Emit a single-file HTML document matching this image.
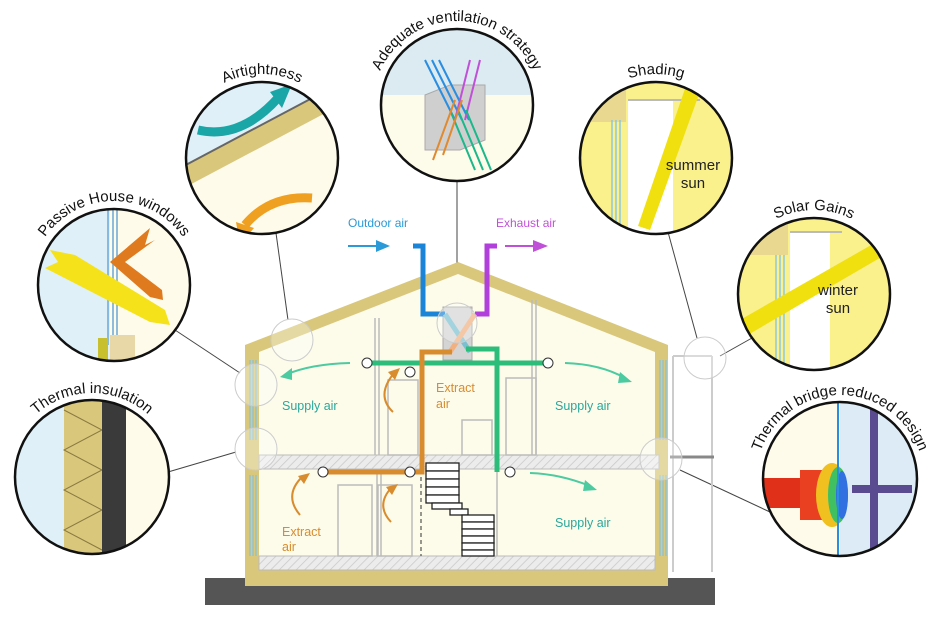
<!DOCTYPE html>
<html><head><meta charset="utf-8"><style>
html,body{margin:0;padding:0;background:#fff;}
svg{display:block;font-family:"Liberation Sans",sans-serif;}
</style></head><body>
<svg width="941" height="624" viewBox="0 0 941 624" xmlns="http://www.w3.org/2000/svg">
<defs>
<pattern id="hatch" width="6" height="6" patternUnits="userSpaceOnUse" patternTransform="rotate(45)">
<rect width="6" height="6" fill="#ececec"/><line x1="0" y1="0" x2="0" y2="6" stroke="#c8c8c8" stroke-width="1.5"/>
</pattern>
<clipPath id="c1"><circle cx="114" cy="285" r="76"/></clipPath>
<clipPath id="c2"><circle cx="262" cy="158" r="76"/></clipPath>
<clipPath id="c3"><circle cx="457" cy="105" r="76"/></clipPath>
<clipPath id="c4"><circle cx="656" cy="158" r="76"/></clipPath>
<clipPath id="c5"><circle cx="814" cy="294" r="76"/></clipPath>
<clipPath id="c6"><circle cx="92" cy="477" r="77"/></clipPath>
<clipPath id="c7"><circle cx="840" cy="479" r="77"/></clipPath>
<path id="p1" d="M 30 285 A 84 84 0 0 1 198 285"/>
<path id="p2" d="M 178 158 A 84 84 0 0 1 346 158"/>
<path id="p3" d="M 373 105 A 84 84 0 0 1 541 105"/>
<path id="p4" d="M 572 158 A 84 84 0 0 1 740 158"/>
<path id="p5" d="M 730 294 A 84 84 0 0 1 898 294"/>
<path id="p6" d="M 8 477 A 84 84 0 0 1 176 477"/>
<path id="p7" d="M 756 479 A 84 84 0 0 1 924 479"/>
</defs>

<!-- connector lines -->
<g stroke="#444" stroke-width="1" fill="none">
<line x1="175" y1="330" x2="240" y2="373"/>
<line x1="276" y1="233" x2="288" y2="320"/>
<line x1="457" y1="181" x2="457" y2="305"/>
<line x1="668" y1="232" x2="697" y2="338"/>
<line x1="752" y1="338" x2="720" y2="356"/>
<line x1="168" y1="472" x2="236" y2="452"/>
<line x1="680" y1="470" x2="770" y2="512"/>
</g>

<!-- ground -->
<rect x="205" y="578" width="510" height="27" fill="#555"/>
<!-- house -->
<polygon points="245,345 458,262 668,345 668,586 245,586" fill="#d9c77c"/>
<polygon points="259,352 458,274 655,352 655,570 259,570" fill="#fdfbea"/>
<rect x="259" y="455" width="400" height="14" fill="url(#hatch)" stroke="#bbb"/>
<rect x="259" y="556" width="396" height="14" fill="url(#hatch)" stroke="#bbb"/>
<!-- windows -->
<g stroke="#7fc3e8" stroke-width="1.2">
<line x1="250" y1="360" x2="250" y2="440"/><line x1="253" y1="360" x2="253" y2="440"/><line x1="256" y1="360" x2="256" y2="440"/>
<line x1="250" y1="475" x2="250" y2="556"/><line x1="253" y1="475" x2="253" y2="556"/><line x1="256" y1="475" x2="256" y2="556"/>
<line x1="660" y1="360" x2="660" y2="440"/><line x1="663" y1="360" x2="663" y2="440"/><line x1="666" y1="360" x2="666" y2="440"/>
<line x1="660" y1="475" x2="660" y2="556"/><line x1="663" y1="475" x2="663" y2="556"/><line x1="666" y1="475" x2="666" y2="556"/>
</g>
<!-- balcony -->
<g stroke="#ccc" stroke-width="2" fill="none">
<line x1="673" y1="356" x2="673" y2="572"/><line x1="712" y1="356" x2="712" y2="572"/><line x1="673" y1="356" x2="712" y2="356"/>
</g>
<line x1="670" y1="457" x2="714" y2="457" stroke="#888" stroke-width="3"/>
<!-- interior walls -->
<g stroke="#bbb" stroke-width="1.5" fill="none">
<line x1="375" y1="318" x2="375" y2="455"/><line x1="379" y1="318" x2="379" y2="455"/>
<line x1="532" y1="300" x2="532" y2="455"/><line x1="536" y1="300" x2="536" y2="455"/>
<line x1="377" y1="470" x2="377" y2="556"/><line x1="381" y1="470" x2="381" y2="556"/>
<line x1="497" y1="470" x2="497" y2="556"/>
<rect x="388" y="380" width="30" height="75"/><rect x="506" y="378" width="30" height="77"/>
<rect x="338" y="485" width="34" height="71"/><rect x="378" y="485" width="34" height="71"/>
<rect x="462" y="420" width="30" height="35"/>
</g>
<line x1="421" y1="470" x2="421" y2="556" stroke="#333" stroke-dasharray="4,3"/>
<!-- stairs -->
<g stroke="#222" stroke-width="1.3" fill="#fff">
<rect x="426" y="463" width="33" height="8"/><rect x="426" y="471" width="33" height="8"/><rect x="426" y="479" width="33" height="8"/><rect x="426" y="487" width="33" height="8"/><rect x="426" y="495" width="33" height="8"/>
<rect x="432" y="503" width="30" height="6"/><rect x="450" y="509" width="18" height="6"/>
<rect x="462" y="515" width="32" height="7"/><rect x="462" y="522" width="32" height="7"/><rect x="462" y="529" width="32" height="7"/><rect x="462" y="536" width="32" height="7"/><rect x="462" y="543" width="32" height="7"/><rect x="462" y="550" width="32" height="6"/>
</g>
<!-- HRV -->
<rect x="443" y="307" width="29" height="53" fill="#d4d4d4" stroke="#aaa"/>
<!-- ducts -->
<polyline points="413,246 423,246 423,314 445,314" fill="none" stroke="#1a84d8" stroke-width="5"/>
<polyline points="497,246 487,246 487,314 475,314" fill="none" stroke="#b03fdb" stroke-width="5"/>
<line x1="445" y1="314" x2="470" y2="352" stroke="#7ac0d0" stroke-width="5"/>
<line x1="475" y1="314" x2="450" y2="352" stroke="#f0b080" stroke-width="5"/>
<polyline points="466,349 497,349 497,472" fill="none" stroke="#2dbd7a" stroke-width="5"/>
<line x1="367" y1="363" x2="548" y2="363" stroke="#2dbd7a" stroke-width="5"/>
<polyline points="452,352 422,352 422,472 323,472" fill="none" stroke="#d88c2e" stroke-width="5"/>
<!-- vents -->
<g fill="#fff" stroke="#333" stroke-width="1">
<circle cx="367" cy="363" r="5"/><circle cx="548" cy="363" r="5"/><circle cx="410" cy="372" r="5"/>
<circle cx="323" cy="472" r="5"/><circle cx="410" cy="472" r="5"/><circle cx="510" cy="472" r="5"/>
</g>
<!-- outdoor/exhaust arrows -->
<line x1="348" y1="246" x2="378" y2="246" stroke="#2a9ad8" stroke-width="2"/><polygon points="376,240 390,246 376,252" fill="#2a9ad8"/>
<line x1="505" y1="246" x2="535" y2="246" stroke="#c050d8" stroke-width="2"/><polygon points="533,240 548,246 533,252" fill="#c050d8"/>
<text x="348" y="227" font-size="12" fill="#2a9ad8">Outdoor air</text>
<text x="496" y="227" font-size="12" fill="#c050d8">Exhaust air</text>
<!-- flow arrows -->
<g fill="none" stroke-width="2">
<path d="M 350 363 Q 310 364 285 375" stroke="#4ccaa0"/>
<path d="M 565 363 Q 600 364 625 378" stroke="#4ccaa0"/>
<path d="M 530 473 Q 560 474 590 486" stroke="#4ccaa0"/>
<path d="M 393 412 Q 375 395 395 372" stroke="#d88c2e"/>
<path d="M 300 515 Q 283 495 303 476" stroke="#d88c2e"/>
<path d="M 391 522 Q 375 505 392 487" stroke="#d88c2e"/>
</g>
<polygon points="280,377 292,368 292,380" fill="#4ccaa0"/>
<polygon points="632,382 620,372 618,383" fill="#4ccaa0"/>
<polygon points="597,490 585,480 583,491" fill="#4ccaa0"/>
<polygon points="400,368 388,372 395,380" fill="#d88c2e"/>
<polygon points="310,473 298,476 304,484" fill="#d88c2e"/>
<polygon points="398,484 386,487 392,495" fill="#d88c2e"/>
<g font-size="12.5">
<text x="282" y="410" fill="#2aa79b">Supply air</text>
<text x="555" y="410" fill="#2aa79b">Supply air</text>
<text x="555" y="527" fill="#2aa79b">Supply air</text>
<text x="436" y="392" fill="#d88c2e">Extract</text><text x="436" y="408" fill="#d88c2e">air</text>
<text x="282" y="536" fill="#d88c2e">Extract</text><text x="282" y="551" fill="#d88c2e">air</text>
</g>
<!-- small highlight circles -->
<g fill="rgba(255,255,255,0.3)" stroke="#ccc" stroke-width="1">
<circle cx="292" cy="340" r="21"/><circle cx="256" cy="385" r="21"/><circle cx="256" cy="449" r="21"/>
<circle cx="457" cy="323" r="20"/><circle cx="705" cy="358" r="21"/><circle cx="661" cy="459" r="21"/>
</g>

<!-- Circle 1: Passive House windows -->
<g clip-path="url(#c1)">
<rect x="30" y="200" width="80" height="170" fill="#dff0f8"/><rect x="110" y="200" width="90" height="170" fill="#fefbea"/>
<g stroke="#6aa8d8" stroke-width="1.5"><line x1="108" y1="200" x2="108" y2="345"/><line x1="113" y1="200" x2="113" y2="345"/><line x1="117" y1="200" x2="117" y2="345"/></g>
<rect x="110" y="335" width="25" height="25" fill="#e8d8a8"/><rect x="98" y="338" width="10" height="22" fill="#c9c030"/>
<polygon points="50,250 75,255 165,310 170,325 150,322 45,268 58,262" fill="#f5e21a"/>
<polygon points="110,262 150,228 145,245 155,240 125,262 162,290 163,300 150,297" fill="#e07a1e"/>
</g>
<circle cx="114" cy="285" r="76" fill="none" stroke="#111" stroke-width="2.5"/>
<text font-size="15" fill="#111"><textPath href="#p1" startOffset="50%" text-anchor="middle">Passive House windows</textPath></text>

<!-- Circle 2: Airtightness -->
<g clip-path="url(#c2)">
<rect x="180" y="80" width="170" height="160" fill="#dff0f8"/>
<polygon points="180,170 350,80 350,240 180,240" fill="#fefbea"/>
<polygon points="180,168 350,78 350,100 180,190" fill="#d9c77c"/>
<line x1="180" y1="168" x2="350" y2="78" stroke="#666" stroke-width="2"/>
<path d="M 198 130 Q 240 140 278 98" fill="none" stroke="#1aa6a6" stroke-width="9"/>
<polygon points="270,92 292,84 282,108" fill="#1aa6a6"/>
<path d="M 312 198 Q 270 195 245 225" fill="none" stroke="#f0a020" stroke-width="9"/>
<polygon points="236,222 240,245 254,228" fill="#f0a020"/>
</g>
<circle cx="262" cy="158" r="76" fill="none" stroke="#111" stroke-width="2.5"/>
<text font-size="15" fill="#111"><textPath href="#p2" startOffset="50%" text-anchor="middle">Airtightness</textPath></text>

<!-- Circle 3: Ventilation -->
<g clip-path="url(#c3)">
<rect x="380" y="28" width="160" height="155" fill="#dcebf2"/>
<rect x="380" y="95" width="160" height="90" fill="#fdfbea"/>
<polygon points="425,95 450,85 485,85 485,140 460,150 425,150" fill="#cfcfcf" stroke="#aaa"/>
<g stroke="#2a8ee0" stroke-width="2"><line x1="425" y1="60" x2="455" y2="120"/><line x1="432" y1="60" x2="462" y2="120"/><line x1="439" y1="60" x2="469" y2="120"/></g>
<g stroke="#c050d8" stroke-width="2"><line x1="470" y1="60" x2="455" y2="120"/><line x1="480" y1="60" x2="465" y2="120"/></g>
<g stroke="#1ab88a" stroke-width="2"><line x1="450" y1="110" x2="475" y2="170"/><line x1="458" y1="110" x2="483" y2="170"/><line x1="466" y1="110" x2="491" y2="170"/></g>
<g stroke="#e08a30" stroke-width="2"><line x1="455" y1="100" x2="433" y2="160"/><line x1="462" y1="100" x2="443" y2="155"/></g>
</g>
<circle cx="457" cy="105" r="76" fill="none" stroke="#111" stroke-width="2.5"/>
<text font-size="15" fill="#111"><textPath href="#p3" startOffset="50%" text-anchor="middle">Adequate ventilation strategy</textPath></text>

<!-- Circle 4: Shading -->
<g clip-path="url(#c4)">
<rect x="578" y="80" width="160" height="160" fill="#faf08c"/>
<rect x="628" y="100" width="45" height="140" fill="#fff"/>
<rect x="578" y="80" width="48" height="42" fill="#e8d890"/>
<g stroke="#7fc3e8" stroke-width="1.3"><line x1="612" y1="120" x2="612" y2="240"/><line x1="616" y1="120" x2="616" y2="240"/><line x1="620" y1="120" x2="620" y2="240"/></g>
<line x1="628" y1="100" x2="700" y2="100" stroke="#bbb" stroke-width="2"/>
<polygon points="688,80 702,86 650,230 638,226" fill="#f0e010"/>
</g>
<circle cx="656" cy="158" r="76" fill="none" stroke="#111" stroke-width="2.5"/>
<text font-size="15" fill="#111"><textPath href="#p4" startOffset="50%" text-anchor="middle">Shading</textPath></text>
<text x="693" y="170" font-size="15" fill="#222" text-anchor="middle">summer</text>
<text x="693" y="188" font-size="15" fill="#222" text-anchor="middle">sun</text>

<!-- Circle 5: Solar gains -->
<g clip-path="url(#c5)">
<rect x="736" y="215" width="160" height="160" fill="#faf08c"/>
<rect x="790" y="232" width="40" height="140" fill="#fff"/>
<rect x="736" y="215" width="52" height="40" fill="#e8d890"/>
<g stroke="#7fc3e8" stroke-width="1.3"><line x1="776" y1="255" x2="776" y2="375"/><line x1="780" y1="255" x2="780" y2="375"/><line x1="784" y1="255" x2="784" y2="375"/></g>
<line x1="790" y1="232" x2="842" y2="232" stroke="#bbb" stroke-width="2"/>
<polygon points="740,320 880,240 890,252 746,336" fill="#f0e010"/>
</g>
<circle cx="814" cy="294" r="76" fill="none" stroke="#111" stroke-width="2.5"/>
<text font-size="15" fill="#111"><textPath href="#p5" startOffset="50%" text-anchor="middle">Solar Gains</textPath></text>
<text x="838" y="295" font-size="15" fill="#222" text-anchor="middle">winter</text>
<text x="838" y="313" font-size="15" fill="#222" text-anchor="middle">sun</text>

<!-- Circle 6: Thermal insulation -->
<g clip-path="url(#c6)">
<rect x="14" y="398" width="50" height="160" fill="#dff0f8"/>
<rect x="64" y="398" width="38" height="160" fill="#d9c77c"/>
<polyline points="64,410 102,430 64,450 102,470 64,490 102,510 64,530 102,550" fill="none" stroke="#8a7a40" stroke-width="1"/>
<rect x="102" y="398" width="24" height="160" fill="#3a3a3a"/>
<rect x="126" y="398" width="50" height="160" fill="#fefbea"/>
</g>
<circle cx="92" cy="477" r="77" fill="none" stroke="#111" stroke-width="2.5"/>
<text font-size="15" fill="#111"><textPath href="#p6" startOffset="50%" text-anchor="middle">Thermal insulation</textPath></text>

<!-- Circle 7: Thermal bridge -->
<g clip-path="url(#c7)">
<rect x="760" y="400" width="80" height="160" fill="#fefbea"/>
<rect x="840" y="400" width="80" height="160" fill="#dcebf5"/>
<rect x="762" y="478" width="45" height="30" fill="#e0301a"/>
<rect x="800" y="470" width="30" height="50" fill="#e84020"/>
<ellipse cx="832" cy="495" rx="16" ry="32" fill="#f0c020"/>
<ellipse cx="838" cy="495" rx="10" ry="28" fill="#40c060"/>
<ellipse cx="842" cy="495" rx="6" ry="24" fill="#3070e0"/>
<line x1="838" y1="400" x2="838" y2="560" stroke="#2a8ee0" stroke-width="2"/>
<rect x="870" y="400" width="8" height="160" fill="#5a4a90"/>
<rect x="852" y="485" width="60" height="8" fill="#5a4a90"/>
</g>
<circle cx="840" cy="479" r="77" fill="none" stroke="#111" stroke-width="2.5"/>
<text font-size="15" fill="#111"><textPath href="#p7" startOffset="50%" text-anchor="middle">Thermal bridge reduced design</textPath></text>
</svg>
</body></html>
